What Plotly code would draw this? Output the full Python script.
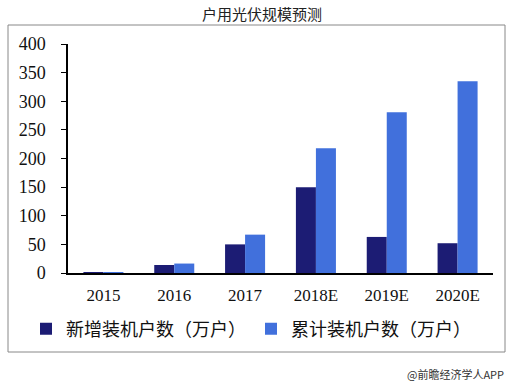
import plotly.graph_objects as go

categories = ["2015", "2016", "2017", "2018E", "2019E", "2020E"]
new_installs = [0.5, 14, 50, 150, 63, 52]
cumulative = [1.5, 16.5, 67, 218, 281, 335]
y_ticks = [0, 50, 100, 150, 200, 250, 300, 350, 400]

L, R, T, B = 68, 493, 44, 273
W, H = 516, 388
pw, ph = R - L, B - T

def px(x):
    return (x - L) / pw

def py(y):
    return (B - y) / ph

fig = go.Figure()
fig.add_trace(go.Bar(x=categories, y=new_installs, name="新增装机户数（万户）",
                     marker=dict(color="#1C1C74", line=dict(width=0))))
fig.add_trace(go.Bar(x=categories, y=cumulative, name="累计装机户数（万户）",
                     marker=dict(color="#4170DC", line=dict(width=0))))

fig.update_layout(
    width=W, height=H,
    margin=dict(l=L, r=W - R, t=T, b=H - B, pad=0),
    paper_bgcolor="white", plot_bgcolor="white",
    barmode="group", bargap=0.435, bargroupgap=0,
    showlegend=True,
    legend=dict(orientation="h", x=px(26), xanchor="left", y=py(329), yanchor="middle",
                font=dict(family="Noto Sans CJK SC", size=18, color="#111"),
                traceorder="normal"),
    xaxis=dict(showline=True, linecolor="black", linewidth=1.5, ticks="", ticklabelstandoff=6,
               tickfont=dict(family="Liberation Serif", size=17, color="#111"),
               showgrid=False, fixedrange=True),
    yaxis=dict(range=[0, 400], tickvals=y_ticks, showline=True, linecolor="black", linewidth=1.5,
               ticks="outside", ticklen=5, tickcolor="black", ticklabelstandoff=12,
               tickfont=dict(family="Liberation Serif", size=18, color="#111"),
               showgrid=False, zeroline=False, fixedrange=True),
    shapes=[dict(type="rect", xref="paper", yref="paper",
                 x0=px(8), x1=px(505), y0=py(352), y1=py(25),
                 line=dict(color="#888", width=1), layer="below")],
    annotations=[
        dict(text="户用光伏规模预测", xref="paper", yref="paper", x=px(262), y=py(14),
             xanchor="center", yanchor="middle", showarrow=False,
             font=dict(family="Noto Sans CJK SC", size=15, color="#222")),
        dict(text="@前瞻经济学人APP", xref="paper", yref="paper", x=px(506), y=py(374),
             xanchor="right", yanchor="middle", showarrow=False,
             font=dict(family="Noto Sans CJK SC", size=11, color="#333")),
    ],
)

fig.write_html("out.html", config={"displayModeBar": False},
               post_script="document.body.style.margin='0';document.body.style.overflow='hidden';")
